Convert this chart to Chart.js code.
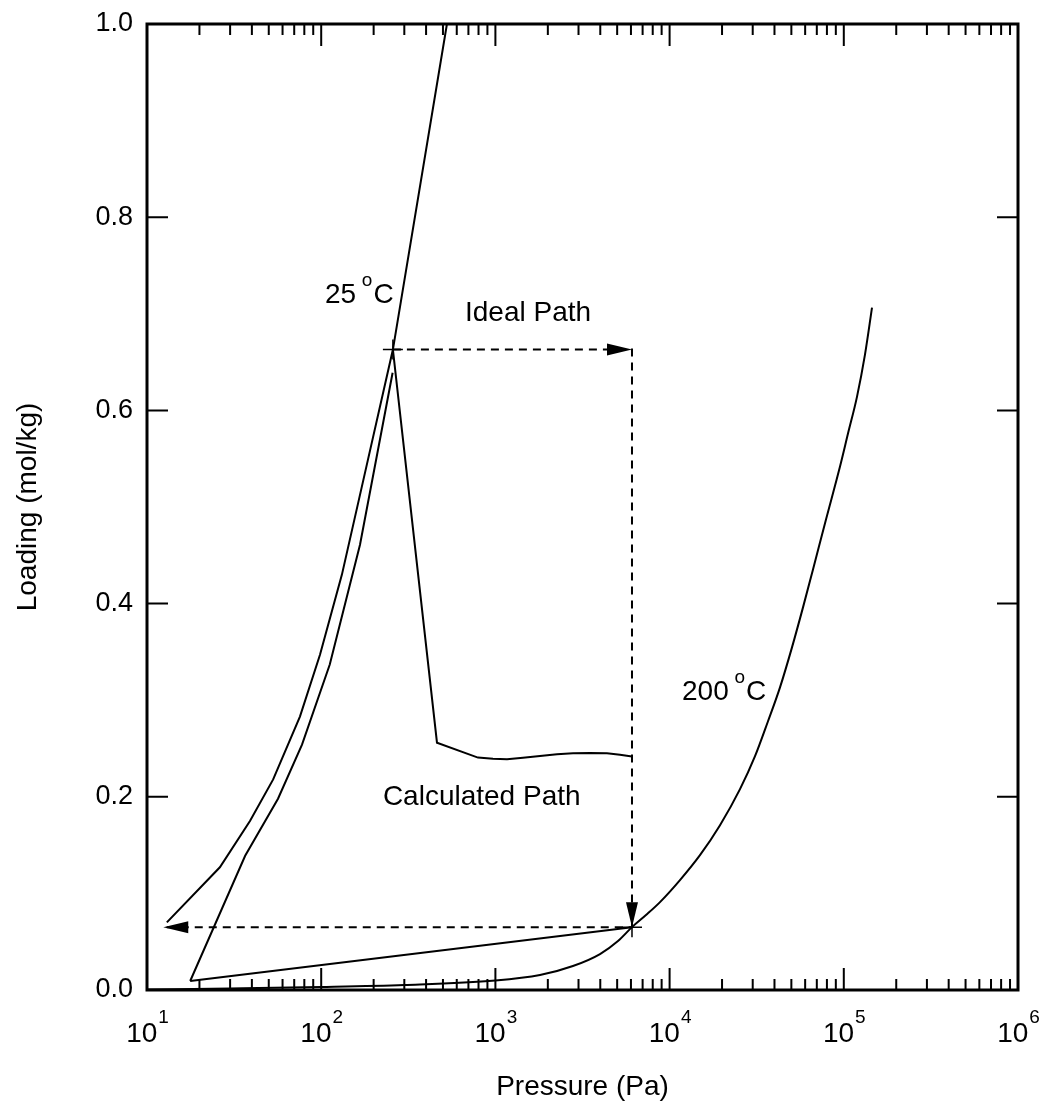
<!DOCTYPE html>
<html>
<head>
<meta charset="utf-8">
<script src="https://cdn.jsdelivr.net/npm/chart.js@4.4.1/dist/chart.umd.min.js"></script>
<style>
  html, body { margin: 0; padding: 0; background: #fff; }
  #wrap { width: 1042px; height: 1111px; }
</style>
</head>
<body>
<div id="wrap"><canvas id="chart"></canvas></div>
<script>
// 25 C isotherm
const isoP25 = [13, 26.2, 39, 53, 75.5, 98.4, 131.5, 185, 258, 527];
const isoQ25 = [0.070, 0.127, 0.175, 0.218, 0.283, 0.347, 0.430, 0.548, 0.663, 1.0];

// calculated path: adsorption leg
const calcUpP = [17.7, 36.6, 56.5, 77.6, 112, 167, 257];
const calcUpQ = [0.0093, 0.139, 0.198, 0.254, 0.337, 0.461, 0.639];

// calculated path: drop + heating leg
const calcDownP = [258, 462, 794, 969, 1166, 1440, 1803, 2258, 2789, 3492, 4371, 5191, 6083];
const calcDownQ = [0.663, 0.256, 0.2406, 0.2394, 0.2389, 0.2404, 0.2423, 0.2441, 0.2451, 0.2454, 0.2451, 0.2435, 0.2417];

// calculated path: return leg
const calcBackP = [6083, 17.7];
const calcBackQ = [0.065, 0.0093];

// 200 C isotherm
const isoP200 = [10, 30, 100, 300, 1000, 1803, 2787, 3986, 5055, 6083, 7320, 8809, 11470, 14940, 19470,
  25360, 30930, 36720, 43030, 50420, 58320, 66560, 79030, 95110, 105700, 119100, 132300, 145200];
const isoQ200 = [0.0005, 0.0016, 0.0031, 0.0052, 0.0098, 0.0155, 0.0248, 0.0372, 0.0507, 0.0651, 0.0776, 0.0910, 0.1138, 0.1396, 0.1706,
  0.2079, 0.2420, 0.2782, 0.3133, 0.3547, 0.3961, 0.4354, 0.4871, 0.5419, 0.5760, 0.6143, 0.6577, 0.7063];

// ideal path (dashed, arrow at end of each leg)
const idealP = [258, 6083, 6083, 12.4];
const idealQ = [0.663, 0.663, 0.065, 0.065];

// cross markers
const markP = [258, 6083];
const markQ = [0.663, 0.065];

const yTicks = [0, 0.2, 0.4, 0.6, 0.8, 1.0];
const xDecades = [1, 2, 3, 4, 5, 6];

const FONT = '"Liberation Sans", Arial, Helvetica, sans-serif';

const pts = (xs, ys) => xs.map((x, i) => ({ x, y: ys[i] }));

const labels = [
  { x: 105, y: 0.7115, main: '25 ', sup: 'o', tail: 'C' },
  { x: 669, y: 0.693, main: 'Ideal Path' },
  { x: 11780, y: 0.300, main: '200 ', sup: 'o', tail: 'C' },
  { x: 226, y: 0.191, main: 'Calculated Path' },
];

const framePlugin = {
  id: 'frame',
  afterDatasetsDraw(chart) {
    const { ctx, chartArea: a, scales } = chart;
    const xs = scales.x, ys = scales.y;
    ctx.save();
    ctx.strokeStyle = '#000';
    ctx.fillStyle = '#000';

    // arrowheads on the ideal path
    const el = chart.getDatasetMeta(5).data;
    for (let i = 1; i < el.length; i++) {
      const x0 = el[i - 1].x, y0 = el[i - 1].y, x1 = el[i].x, y1 = el[i].y;
      const ang = Math.atan2(y1 - y0, x1 - x0);
      const len = 25, hw = 6;
      const c = Math.cos(ang), s = Math.sin(ang);
      ctx.beginPath();
      ctx.moveTo(x1, y1);
      ctx.lineTo(x1 - len * c - hw * s, y1 - len * s + hw * c);
      ctx.lineTo(x1 - len * c + hw * s, y1 - len * s - hw * c);
      ctx.closePath();
      ctx.fill();
    }

    // ticks
    ctx.lineWidth = 2;
    ctx.beginPath();
    xDecades.forEach(d => {
      for (let m = 1; m <= 9; m++) {
        const v = m * Math.pow(10, d);
        if (v <= 10 || v >= 1e6) continue;
        const px = xs.getPixelForValue(v);
        const len = m === 1 ? 22 : 11;
        ctx.moveTo(px, a.bottom); ctx.lineTo(px, a.bottom - len);
        ctx.moveTo(px, a.top); ctx.lineTo(px, a.top + len);
      }
    });
    yTicks.forEach(v => {
      if (v <= 0 || v >= 1) return;
      const py = ys.getPixelForValue(v);
      ctx.moveTo(a.left, py); ctx.lineTo(a.left + 21, py);
      ctx.moveTo(a.right, py); ctx.lineTo(a.right - 21, py);
    });
    ctx.stroke();

    // frame
    ctx.lineWidth = 3;
    ctx.strokeRect(a.left, a.top, a.right - a.left, a.bottom - a.top);

    // x tick labels 10^n
    ctx.textBaseline = 'alphabetic';
    ctx.textAlign = 'left';
    xDecades.forEach(d => {
      const px = xs.getPixelForValue(Math.pow(10, d));
      ctx.font = '28px ' + FONT;
      const w1 = ctx.measureText('10').width;
      ctx.font = '19px ' + FONT;
      const w2 = ctx.measureText(String(d)).width;
      const x0 = px - (w1 + w2) / 2;
      ctx.font = '28px ' + FONT;
      ctx.fillText('10', x0, a.bottom + 52);
      ctx.font = '19px ' + FONT;
      ctx.fillText(String(d), x0 + w1 + 1, a.bottom + 33);
    });

    // annotations
    labels.forEach(l => {
      let px = xs.getPixelForValue(l.x);
      const py = ys.getPixelForValue(l.y);
      ctx.font = '28px ' + FONT;
      ctx.fillText(l.main, px, py);
      px += ctx.measureText(l.main).width;
      if (l.sup) {
        ctx.font = '19px ' + FONT;
        ctx.fillText(l.sup, px - 2, py - 17);
        px += ctx.measureText(l.sup).width - 1;
        ctx.font = '28px ' + FONT;
        ctx.fillText(l.tail, px, py);
      }
    });
    ctx.restore();
  }
};

const line = (data, extra) => Object.assign({
  data,
  showLine: true,
  borderColor: '#000',
  borderWidth: 2,
  pointRadius: 0,
  fill: false,
  tension: 0,
}, extra);

new Chart(document.getElementById('chart'), {
  type: 'scatter',
  data: {
    datasets: [
      line(pts(isoP25, isoQ25), { label: '25 °C' }),
      line(pts(calcUpP, calcUpQ), { label: 'Calculated up' }),
      line(pts(calcDownP, calcDownQ), { label: 'Calculated down' }),
      line(pts(calcBackP, calcBackQ), { label: 'Calculated back' }),
      line(pts(isoP200, isoQ200), { label: '200 °C', cubicInterpolationMode: 'monotone' }),
      line(pts(idealP, idealQ), { label: 'Ideal Path', borderDash: [8, 6] }),
      {
        label: 'marks',
        data: pts(markP, markQ),
        showLine: false,
        pointStyle: 'cross',
        pointRadius: 10,
        borderColor: '#000',
        borderWidth: 1.5,
        backgroundColor: '#000',
      },
    ],
  },
  options: {
    responsive: true,
    maintainAspectRatio: false,
    animation: false,
    layout: { padding: { top: 24, right: 24, left: 0, bottom: 0 } },
    plugins: {
      legend: { display: false },
      tooltip: { enabled: false },
    },
    scales: {
      x: {
        type: 'logarithmic',
        min: 10,
        max: 1e6,
        grid: { display: false },
        border: { display: false },
        ticks: { display: false },
        title: {
          display: true,
          text: 'Pressure (Pa)',
          color: '#000',
          font: { family: FONT, size: 28 },
          padding: { top: 0, bottom: 7 },
        },
        afterFit(scale) { scale.height = 121; },
      },
      y: {
        min: 0,
        max: 1,
        afterBuildTicks(scale) { scale.ticks = yTicks.map(v => ({ value: v })); },
        grid: { display: false, drawTicks: false },
        border: { display: false },
        ticks: {
          color: '#000',
          padding: 14,
          font: { family: FONT, size: 27 },
          callback: v => v.toFixed(1),
        },
        title: {
          display: true,
          text: 'Loading (mol/kg)',
          color: '#000',
          font: { family: FONT, size: 28 },
          padding: { top: 11, bottom: 0 },
        },
        afterFit(scale) {
          scale.width = 147;
          scale.paddingTop = 0;
          scale.paddingBottom = 0;
        },
      },
    },
  },
  plugins: [framePlugin],
});
</script>
</body>
</html>
